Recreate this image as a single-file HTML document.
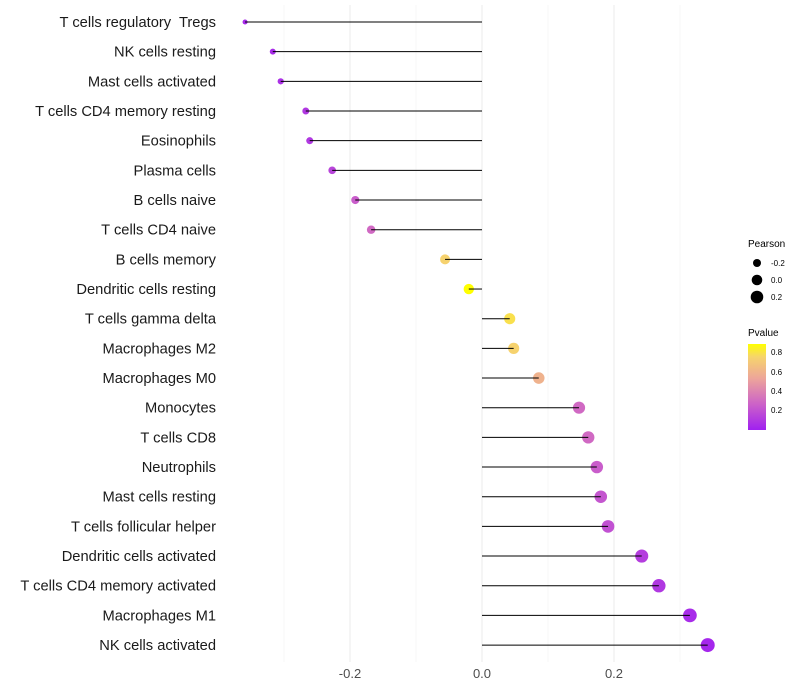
<!DOCTYPE html>
<html><head><meta charset="utf-8"><style>
body{margin:0;background:#fff;font-family:"Liberation Sans",sans-serif}
svg{display:block}
text{white-space:pre}
</style></head><body>
<svg id="chart" width="800" height="700">
<defs><linearGradient id="pg" x1="0" y1="1" x2="0" y2="0">
<stop offset="0" stop-color="#A020F0"/><stop offset="0.3" stop-color="#CC62C8"/><stop offset="0.6" stop-color="#EDA59A"/><stop offset="0.85" stop-color="#F6D46C"/><stop offset="1" stop-color="#FFFF00"/></linearGradient></defs>
<g id="grid"></g><g id="dots"></g><g id="marks"></g><g id="labels"></g>
<g font-size="10">
<text x="748" y="247" fill="#000">Pearson</text>
<circle cx="757" cy="263" r="4" fill="#000"/><text x="771" y="266" font-size="8">-0.2</text>
<circle cx="757" cy="280" r="5.3" fill="#000"/><text x="771" y="283" font-size="8">0.0</text>
<circle cx="757" cy="297" r="6.3" fill="#000"/><text x="771" y="300" font-size="8">0.2</text>
<text x="748" y="336" fill="#000">Pvalue</text>
<rect x="748" y="344" width="18" height="86" fill="url(#pg)"/>
<g font-size="8"><text x="771" y="355">0.8</text><text x="771" y="375">0.6</text><text x="771" y="394">0.4</text><text x="771" y="413">0.2</text></g>
</g>
</svg>
<script>
const categories=["T cells regulatory  Tregs","NK cells resting","Mast cells activated","T cells CD4 memory resting","Eosinophils","Plasma cells","B cells naive","T cells CD4 naive","B cells memory","Dendritic cells resting","T cells gamma delta","Macrophages M2","Macrophages M0","Monocytes","T cells CD8","Neutrophils","Mast cells resting","T cells follicular helper","Dendritic cells activated","T cells CD4 memory activated","Macrophages M1","NK cells activated"];
const pearson=[-0.359,-0.317,-0.305,-0.267,-0.261,-0.227,-0.192,-0.168,-0.056,-0.020,0.042,0.048,0.086,0.147,0.161,0.174,0.180,0.191,0.242,0.268,0.315,0.342];
const pvalues=[0.04,0.05,0.07,0.1,0.1,0.15,0.25,0.3,0.75,0.9,0.8,0.75,0.6,0.3,0.3,0.25,0.22,0.2,0.12,0.1,0.05,0.03];
const xticks=[-0.2,0.0,0.2];
const minorTicks=[-0.3,-0.1,0.1,0.3];
const NS="http://www.w3.org/2000/svg";
const X=v=>482+v*660;
const Y=i=>22+i*29.67;
const R=v=>Math.sqrt(Math.max(2.5,28.2+60.7*v));
function col(p){const s=[[0,[160,32,240]],[0.27,[204,98,200]],[0.54,[237,165,154]],[0.76,[246,212,108]],[0.9,[255,255,0]]];
 if(p>=0.9)return"rgb(255,255,0)";for(let k=0;k<s.length-1;k++){if(p<=s[k+1][0]){const t=(p-s[k][0])/(s[k+1][0]-s[k][0]);const c=s[k][1].map((a,j)=>Math.round(a+(s[k+1][1][j]-a)*t));return`rgb(${c})`;}}}
function mk(tag,at,parent){const e=document.createElementNS(NS,tag);for(const k in at)e.setAttribute(k,at[k]);document.getElementById(parent).appendChild(e);return e;}
minorTicks.forEach(v=>{const l=mk("line",{x1:X(v),x2:X(v),y1:5,y2:662,stroke:"#f2f2f2","stroke-width":0.6},"grid");

});
xticks.forEach(v=>{const l=mk("line",{x1:X(v),x2:X(v),y1:5,y2:662,stroke:"#ebebeb","stroke-width":1},"grid");


const t=mk("text",{x:X(v),y:678,"text-anchor":"middle","font-size":13,fill:"#4d4d4d"},"labels");t.textContent=v.toFixed(1);

});
categories.forEach((c,i)=>{const y=Y(i);
const d=mk("circle",{cx:X(pearson[i]),cy:y,r:R(pearson[i]),fill:col(pvalues[i])},"dots");


const l=mk("line",{x1:X(0),x2:X(pearson[i]),y1:y,y2:y,stroke:"#000","stroke-width":1},"marks");


const t=mk("text",{x:216,y:y+5,"text-anchor":"end","font-size":14.7,fill:"#1a1a1a"},"labels");t.textContent=c;

});
</script>
</body></html>
